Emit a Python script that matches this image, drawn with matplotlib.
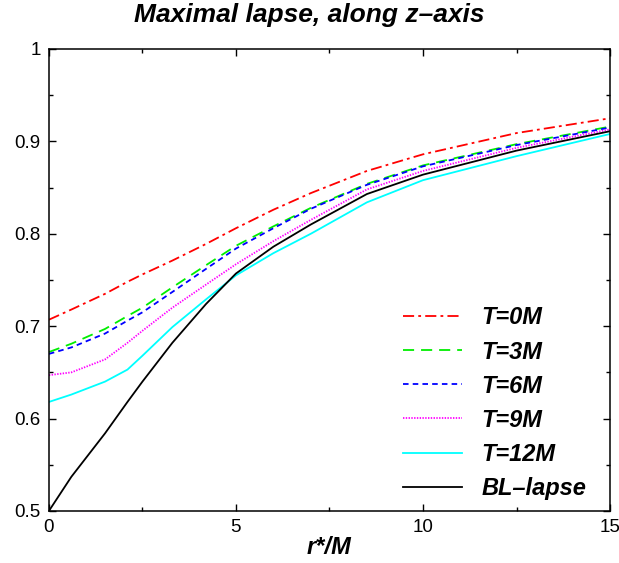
import numpy as np
import matplotlib
matplotlib.use("Agg")
import matplotlib.pyplot as plt
from matplotlib.ticker import MultipleLocator

plt.rcParams["font.family"] = ["Liberation Sans", "DejaVu Sans"]
plt.rcParams["lines.scale_dashes"] = False

# значения
r = [0, 0.6, 1.5, 2.1, 2.5, 3.3, 4.2, 5, 6, 7, 8.5, 10, 12.5, 15]
t0 = [0.707, 0.718, 0.735, 0.748, 0.756, 0.771, 0.789, 0.806, 0.826, 0.844, 0.868, 0.886, 0.909, 0.925]
t3 = [0.672, 0.681, 0.697, 0.711, 0.720, 0.742, 0.766, 0.787, 0.808, 0.828, 0.854, 0.874, 0.897, 0.916]
t6 = [0.670, 0.677, 0.692, 0.706, 0.715, 0.737, 0.762, 0.784, 0.806, 0.827, 0.853, 0.873, 0.896, 0.915]
t9 = [0.647, 0.650, 0.664, 0.682, 0.695, 0.720, 0.745, 0.767, 0.792, 0.815, 0.848, 0.868, 0.893, 0.913]
t12 = [0.618, 0.626, 0.640, 0.653, 0.668, 0.699, 0.729, 0.755, 0.779, 0.800, 0.834, 0.858, 0.884, 0.908]
bl = [0.500, 0.537, 0.584, 0.618, 0.640, 0.682, 0.724, 0.757, 0.786, 0.810, 0.843, 0.864, 0.890, 0.911]

labels = ["T=0M", "T=3M", "T=6M", "T=9M", "T=12M", "BL\u2013lapse"]
colors = ["#ff0000", "#00ee00", "#0000ff", "#ff00ff", "#00ffff", "#000000"]
styles = [(0, (8, 3, 2, 3)), (0, (8, 5)), (0, (4, 3)), (0, (1, 1)), "-", "-"]

fig = plt.figure(figsize=(6.19, 5.63), dpi=100)
ax = fig.add_axes([0.079, 0.0924, 0.9065, 0.8206])

for y, lab, c, ls in zip([t0, t3, t6, t9, t12, bl], labels, colors, styles):
    ax.plot(r, y, color=c, ls=ls, lw=1.3, label=lab)

ax.set_xlim(0, 15); ax.set_ylim(0.5, 1)
ax.xaxis.set_major_locator(MultipleLocator(5))
ax.xaxis.set_minor_locator(MultipleLocator(2.5))
ax.yaxis.set_minor_locator(MultipleLocator(0.05))
ax.set_yticks([0.5, 0.6, 0.7, 0.8, 0.9, 1.0])
ax.set_yticklabels(["0.5", "0.6", "0.7", "0.8", "0.9", "1"])
ax.tick_params(which="both", direction="in", top=True, right=True, labelsize=13.5, width=1)
ax.tick_params(which="major", length=5, pad=6)
ax.tick_params(which="minor", length=3)
for s in ax.spines.values():
    s.set_linewidth(1.1)

# заголовок по центру фигуры, как в оригинале
fig.text(0.5, 0.973, "Maximal lapse, along z\u2013axis", ha="center", va="center",
         fontsize=19, fontweight="bold", style="italic")
ax.set_xlabel("r*/M", fontsize=17, fontweight="bold", style="italic", labelpad=0)

ax.legend(loc="lower right", bbox_to_anchor=(0.995, -0.022), frameon=False,
          prop=dict(size=17, weight="bold", style="italic"),
          handlelength=2.5, handletextpad=0.8, labelspacing=0.47)

plt.savefig("out.png", dpi=100)
